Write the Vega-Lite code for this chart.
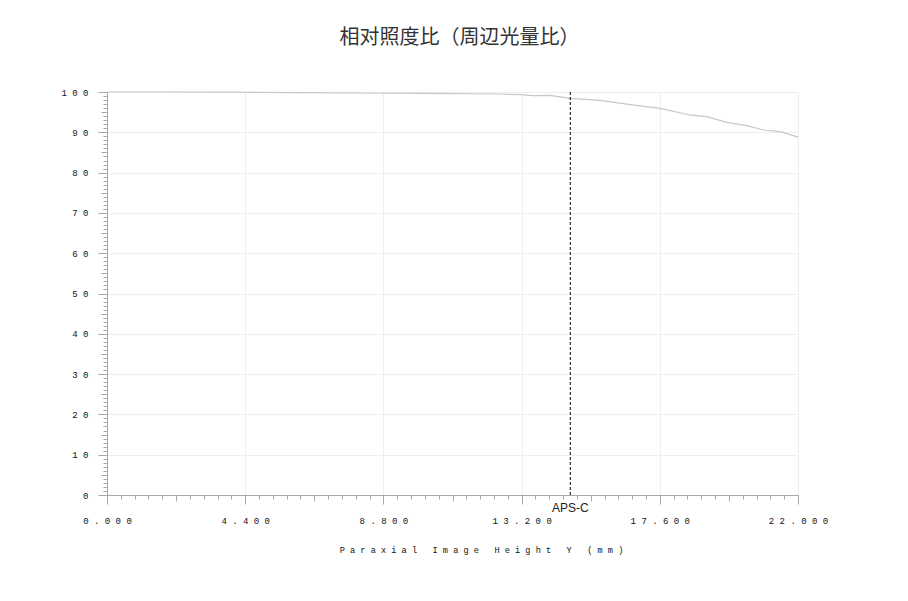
{
  "$schema": "https://vega.github.io/schema/vega-lite/v6.json",
  "autosize": {"type": "none"},
  "padding": {"left": 107, "top": 92, "right": 110, "bottom": 106},
  "width": 691,
  "height": 403,
  "background": "white",
  "title": {
    "text": "相对照度比（周辺光量比）",
    "font": "Noto Sans CJK JP",
    "fontSize": 20,
    "fontWeight": "normal",
    "color": "#333333",
    "anchor": "middle",
    "baseline": "bottom",
    "offset": 20,
    "dx": 7
  },
  "config": {
    "view": {"stroke": null},
    "axis": {
      "labelFont": "Liberation Mono",
      "titleFont": "Liberation Mono",
      "labelFontSize": 9,
      "titleFontSize": 8.6,
      "titleFontWeight": "normal",
      "labelColor": "#111111",
      "titleColor": "#111111",
      "domainColor": "#a8a8a8",
      "tickColor": "#a8a8a8",
      "gridColor": "#eeeeee",
      "labelFlush": false,
      "labelOverlap": false
    }
  },
  "data": {
    "values": [
      {"y_mm": 0, "ri": 100},
      {"y_mm": 2, "ri": 100},
      {"y_mm": 4, "ri": 99.95},
      {"y_mm": 6, "ri": 99.85},
      {"y_mm": 8, "ri": 99.75},
      {"y_mm": 10, "ri": 99.65},
      {"y_mm": 12.5, "ri": 99.5},
      {"y_mm": 13.15, "ri": 99.33},
      {"y_mm": 13.56, "ri": 99.1},
      {"y_mm": 14.1, "ri": 99.17},
      {"y_mm": 14.74, "ri": 98.43},
      {"y_mm": 15.7, "ri": 97.93},
      {"y_mm": 16.55, "ri": 97.0},
      {"y_mm": 17.6, "ri": 95.95},
      {"y_mm": 17.9, "ri": 95.45},
      {"y_mm": 18.56, "ri": 94.3},
      {"y_mm": 19.09, "ri": 93.88},
      {"y_mm": 19.73, "ri": 92.47},
      {"y_mm": 20.37, "ri": 91.64},
      {"y_mm": 20.9, "ri": 90.57},
      {"y_mm": 21.43, "ri": 90.15},
      {"y_mm": 22, "ri": 88.8}
    ]
  },
  "layer": [
    {
      "mark": {"type": "line", "color": "#c8c8c8", "strokeWidth": 1.2},
      "encoding": {
        "x": {
          "field": "y_mm",
          "type": "quantitative",
          "scale": {"domain": [0, 22], "nice": false, "zero": true},
          "axis": {
            "orient": "bottom",
            "values": [0, 4.4, 8.8, 13.2, 17.6, 22],
            "labelExpr": "join(split(format(datum.value, '.3f'), ''), ' ')",
            "tickSize": 9,
            "labelPadding": 12,
            "grid": true,
            "title": "P a r a x i a l \u00a0 I m a g e \u00a0 H e i g h t \u00a0 Y \u00a0 ( m m )",
            "titleX": 374,
            "titlePadding": 20
          }
        },
        "y": {
          "field": "ri",
          "type": "quantitative",
          "scale": {"domain": [0, 100], "nice": false},
          "axis": {
            "orient": "left",
            "values": [0, 10, 20, 30, 40, 50, 60, 70, 80, 90, 100],
            "labelExpr": "join(split(format(datum.value, 'd'), ''), ' ')",
            "tickSize": 9,
            "labelPadding": 10,
            "grid": true,
            "title": null
          }
        }
      }
    },
    {
      "mark": {"type": "point", "opacity": 0},
      "encoding": {
        "x": {
          "field": "y_mm",
          "type": "quantitative",
          "axis": {
            "orient": "bottom",
            "values": [0, 0.44, 0.88, 1.32, 1.76, 2.2, 2.64, 3.08, 3.52, 3.96, 4.4, 4.84, 5.28, 5.72, 6.16, 6.6, 7.04, 7.48, 7.92, 8.36, 8.8, 9.24, 9.68, 10.12, 10.56, 11, 11.44, 11.88, 12.32, 12.76, 13.2, 13.64, 14.08, 14.52, 14.96, 15.4, 15.84, 16.28, 16.72, 17.16, 17.6, 18.04, 18.48, 18.92, 19.36, 19.8, 20.24, 20.68, 21.12, 21.56, 22],
            "tickSize": 4,
            "labels": false,
            "domain": false,
            "grid": false,
            "title": null
          }
        },
        "y": {
          "field": "ri",
          "type": "quantitative",
          "axis": {
            "orient": "left",
            "values": [0, 1, 2, 3, 4, 5, 6, 7, 8, 9, 10, 11, 12, 13, 14, 15, 16, 17, 18, 19, 20, 21, 22, 23, 24, 25, 26, 27, 28, 29, 30, 31, 32, 33, 34, 35, 36, 37, 38, 39, 40, 41, 42, 43, 44, 45, 46, 47, 48, 49, 50, 51, 52, 53, 54, 55, 56, 57, 58, 59, 60, 61, 62, 63, 64, 65, 66, 67, 68, 69, 70, 71, 72, 73, 74, 75, 76, 77, 78, 79, 80, 81, 82, 83, 84, 85, 86, 87, 88, 89, 90, 91, 92, 93, 94, 95, 96, 97, 98, 99, 100],
            "tickSize": 4,
            "labels": false,
            "domain": false,
            "grid": false,
            "title": null
          }
        }
      }
    },
    {
      "mark": {"type": "point", "opacity": 0},
      "encoding": {
        "x": {
          "field": "y_mm",
          "type": "quantitative",
          "axis": {
            "orient": "bottom",
            "values": [0, 2.2, 4.4, 6.6, 8.8, 11, 13.2, 15.4, 17.6, 19.8, 22],
            "tickSize": 6,
            "labels": false,
            "domain": false,
            "grid": false,
            "title": null
          }
        },
        "y": {
          "field": "ri",
          "type": "quantitative",
          "axis": {
            "orient": "left",
            "values": [0, 5, 10, 15, 20, 25, 30, 35, 40, 45, 50, 55, 60, 65, 70, 75, 80, 85, 90, 95, 100],
            "tickSize": 6,
            "labels": false,
            "domain": false,
            "grid": false,
            "title": null
          }
        }
      }
    },
    {
      "data": {"values": [{"pos": 14.75, "name": "APS-C"}]},
      "mark": {"type": "rule", "color": "black", "strokeWidth": 1, "strokeDash": [3, 2]},
      "encoding": {
        "x": {"field": "pos", "type": "quantitative", "axis": null}
      }
    },
    {
      "data": {"values": [{"pos": 14.75, "name": "APS-C"}]},
      "mark": {"type": "text", "font": "Liberation Sans", "fontSize": 12, "color": "#222222", "baseline": "top", "dy": 8},
      "encoding": {
        "x": {"field": "pos", "type": "quantitative", "axis": null},
        "y": {"datum": 0, "type": "quantitative", "axis": null},
        "text": {"field": "name"}
      }
    }
  ],
  "resolve": {"axis": {"x": "independent", "y": "independent"}}
}
